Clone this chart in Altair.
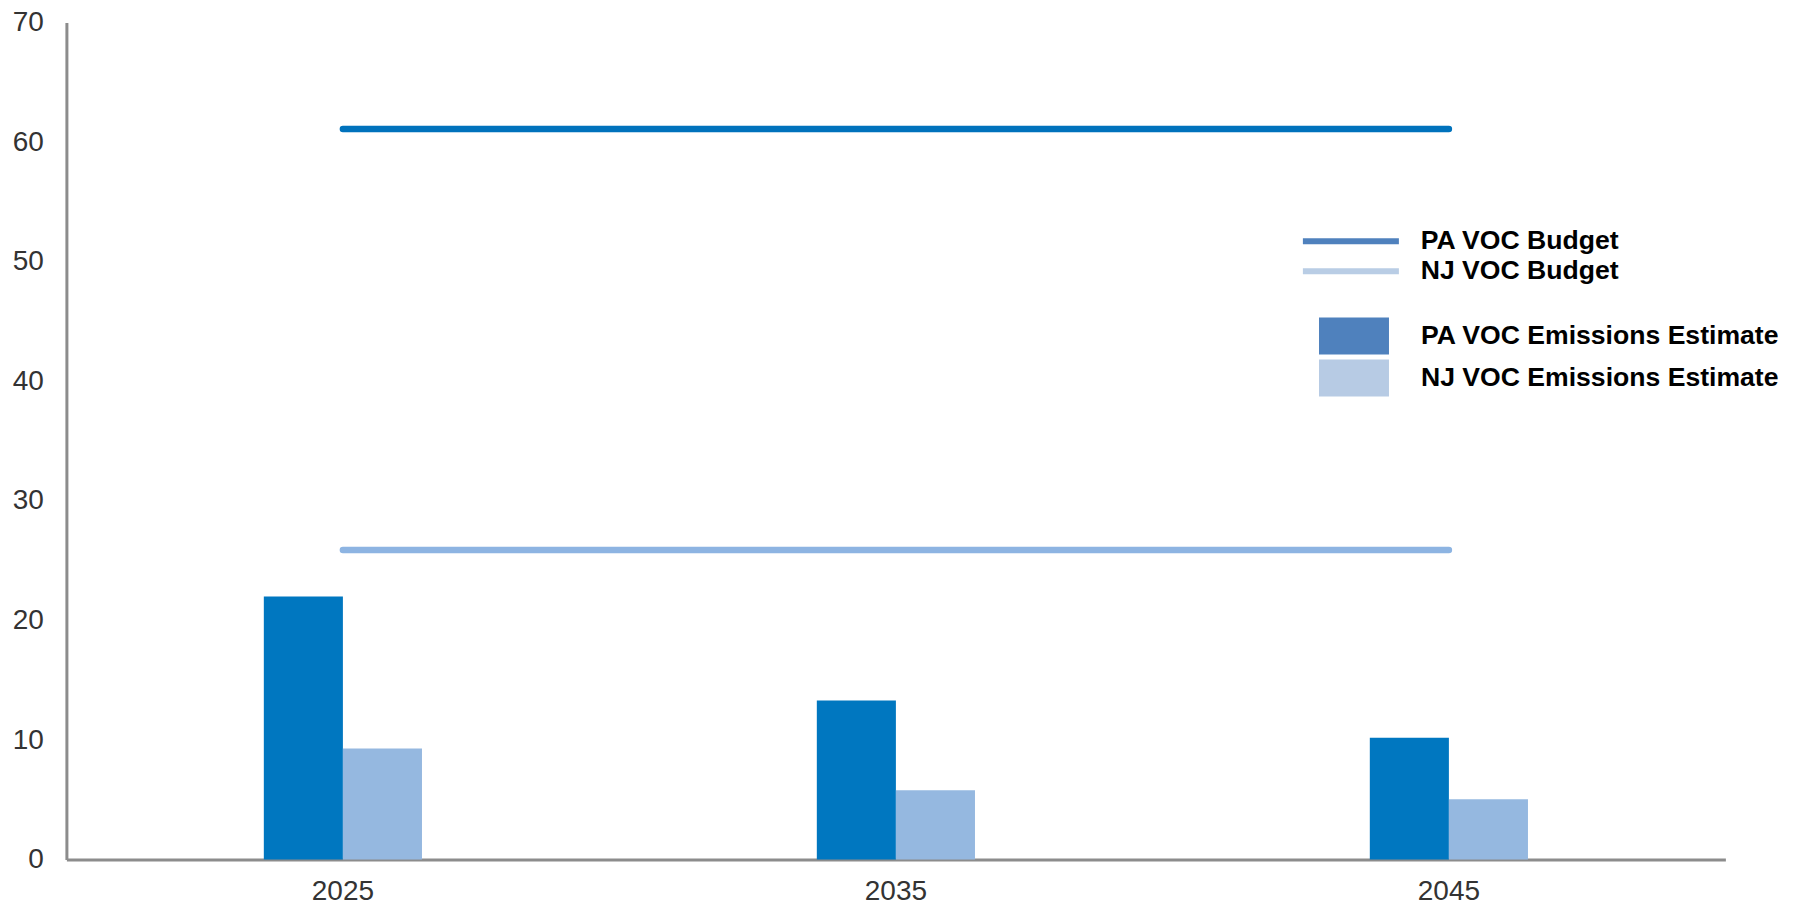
import altair as alt
import pandas as pd

years = ["2025", "2035", "2045"]
pa_emis = [22.0, 13.3, 10.2]
nj_emis = [9.3, 5.8, 5.05]
pa_budget = [61.1, 61.1, 61.1]
nj_budget = [25.9, 25.9, 25.9]
y_ticks = [0, 10, 20, 30, 40, 50, 60, 70]

emis_names = ["PA VOC Emissions Estimate", "NJ VOC Emissions Estimate"]
budget_names = ["PA VOC Budget", "NJ VOC Budget"]

bar_colors = ["#0077C0", "#95B8E0"]
line_colors = ["#0072BC", "#8DB4E2"]
legend_rect_colors = ["#4F81BD", "#B7CBE4"]
legend_line_colors = ["#4F81BD", "#B9CDE5"]

emis_df = pd.DataFrame(
    [{"year": y, "series": emis_names[0], "value": v} for y, v in zip(years, pa_emis)]
    + [{"year": y, "series": emis_names[1], "value": v} for y, v in zip(years, nj_emis)]
)
budget_df = pd.DataFrame(
    [{"year": y, "budget": budget_names[0], "value": v} for y, v in zip(years, pa_budget)]
    + [{"year": y, "budget": budget_names[1], "value": v} for y, v in zip(years, nj_budget)]
)

FONT = "Liberation Sans"

x_enc = alt.X(
    "year:N",
    sort=years,
    title=None,
    scale=alt.Scale(paddingInner=0.714, paddingOuter=0.357),
    axis=alt.Axis(labelAngle=0, labelPadding=18),
)
y_enc = alt.Y(
    "value:Q",
    title=None,
    scale=alt.Scale(domain=[0, 70], nice=False),
    axis=alt.Axis(values=y_ticks, labelPadding=23),
)
xoff = alt.XOffset("series:N", sort=emis_names, scale=alt.Scale(paddingInner=0, paddingOuter=0))

bars = alt.Chart(emis_df).mark_bar().encode(
    x=x_enc,
    xOffset=xoff,
    y=y_enc,
    fill=alt.Fill("series:N", scale=alt.Scale(domain=emis_names, range=bar_colors), legend=None),
)

lines = alt.Chart(budget_df).mark_line(strokeWidth=6.5, strokeCap="round").encode(
    x=x_enc,
    y=y_enc,
    stroke=alt.Stroke("budget:N", scale=alt.Scale(domain=budget_names, range=line_colors), legend=None),
)

legend_common = dict(
    orient="none",
    title=None,
    padding=0,
    labelFont=FONT,
    labelFontWeight="bold",
    labelFontSize=26.6,
    labelColor="#000000",
    labelLimit=0,
    symbolOpacity=1,
)

bar_legend_layer = alt.Chart(emis_df).mark_bar(opacity=0).encode(
    x=x_enc,
    xOffset=xoff,
    y=y_enc,
    color=alt.Color(
        "series:N",
        scale=alt.Scale(domain=emis_names, range=legend_rect_colors),
        legend=alt.Legend(
            legendX=1269.6,
            legendY=295.4,
            symbolType="M-1.944,-1.028H1.944V1.028H-1.944Z",
            symbolSize=1296,
            symbolStrokeWidth=0,
            labelOffset=49,
            rowPadding=4,
            **legend_common,
        ),
    ),
)

line_legend_layer = alt.Chart(budget_df).mark_line(opacity=0).encode(
    x=x_enc,
    y=y_enc,
    color=alt.Color(
        "budget:N",
        scale=alt.Scale(domain=budget_names, range=legend_line_colors),
        legend=alt.Legend(
            legendX=1271.2,
            legendY=205.4,
            symbolType="M-4.8,0H4.8",
            symbolSize=400,
            symbolStrokeWidth=6,
            labelOffset=56.5,
            rowPadding=3,
            **legend_common,
        ),
    ),
)

chart = (
    alt.layer(bars, lines, bar_legend_layer, line_legend_layer)
    .resolve_scale(color="independent")
    .properties(
        width=1659,
        height=837,
        padding={"left": 58.4, "top": 14.6, "right": 60, "bottom": 46},
        autosize=alt.AutoSizeParams(type="none"),
    )
    .configure_view(stroke=None)
    .configure_axis(
        grid=False,
        ticks=False,
        domainColor="#8C8C8C",
        domainWidth=3,
        labelFont=FONT,
        labelFontSize=28,
        labelColor="#333333",
    )
)

chart.save("out.html", embed_options={"renderer": "svg", "actions": False})
